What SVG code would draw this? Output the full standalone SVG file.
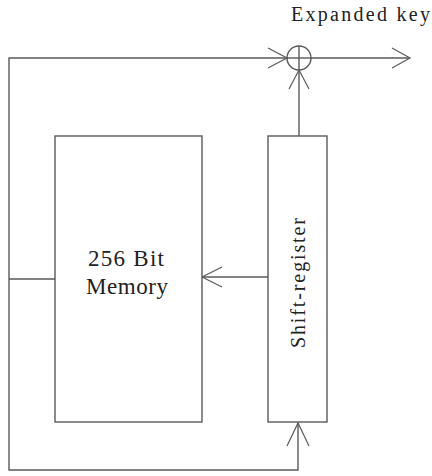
<svg xmlns="http://www.w3.org/2000/svg" width="432" height="476" viewBox="0 0 432 476">
<defs>
<style>
.ln{fill:none;stroke:#5a5a5a;stroke-width:1.4}
.bx{fill:#fff;stroke:#5a5a5a;stroke-width:1.4}
.ah{fill:none;stroke:#5a5a5a;stroke-width:1.2}
.t{font-family:"Liberation Serif","Times New Roman",serif;fill:#222}
</style>
</defs>
<rect width="432" height="476" fill="#fff"/>
<g id="connectors">
<polyline class="ln" points="287,58 9,58 9,470 298,470 298,423"/>
<line class="ln" x1="9" y1="279" x2="55" y2="279"/>
<line class="ln" x1="311" y1="58" x2="410" y2="58"/>
<line class="ln" x1="299" y1="136" x2="299" y2="70"/>
<line class="ln" x1="268" y1="277" x2="202" y2="277"/>
<polyline class="ah" points="268,48 287,58 268,68"/>
<polyline class="ah" points="392,48 410,58 392,68"/>
<polyline class="ah" points="289,89 299,70 309,89"/>
<polyline class="ah" points="222,267 202,277 222,287"/>
<polyline class="ah" points="287,446 298,423 309,446"/>
</g>
<g id="xor">
<circle class="ln" cx="299" cy="58" r="12"/>
<line class="ln" x1="287" y1="58" x2="311" y2="58"/>
<line class="ln" x1="299" y1="46" x2="299" y2="70"/>
</g>
<g id="memory">
<rect class="bx" x="55" y="136" width="147" height="286"/>
<text class="t" x="126" y="266" font-size="23" text-anchor="middle" textLength="76">256 Bit</text>
<text class="t" x="127" y="294" font-size="23" text-anchor="middle" textLength="82">Memory</text>
</g>
<g id="shift-register">
<rect class="bx" x="268" y="136" width="59" height="286"/>
<text class="t" transform="translate(305,283) rotate(-90)" font-size="20" text-anchor="middle" textLength="130">Shift-register</text>
</g>
<g id="label">
<text class="t" x="291" y="21" font-size="20" textLength="139">Expanded key</text>
</g>
</svg>
